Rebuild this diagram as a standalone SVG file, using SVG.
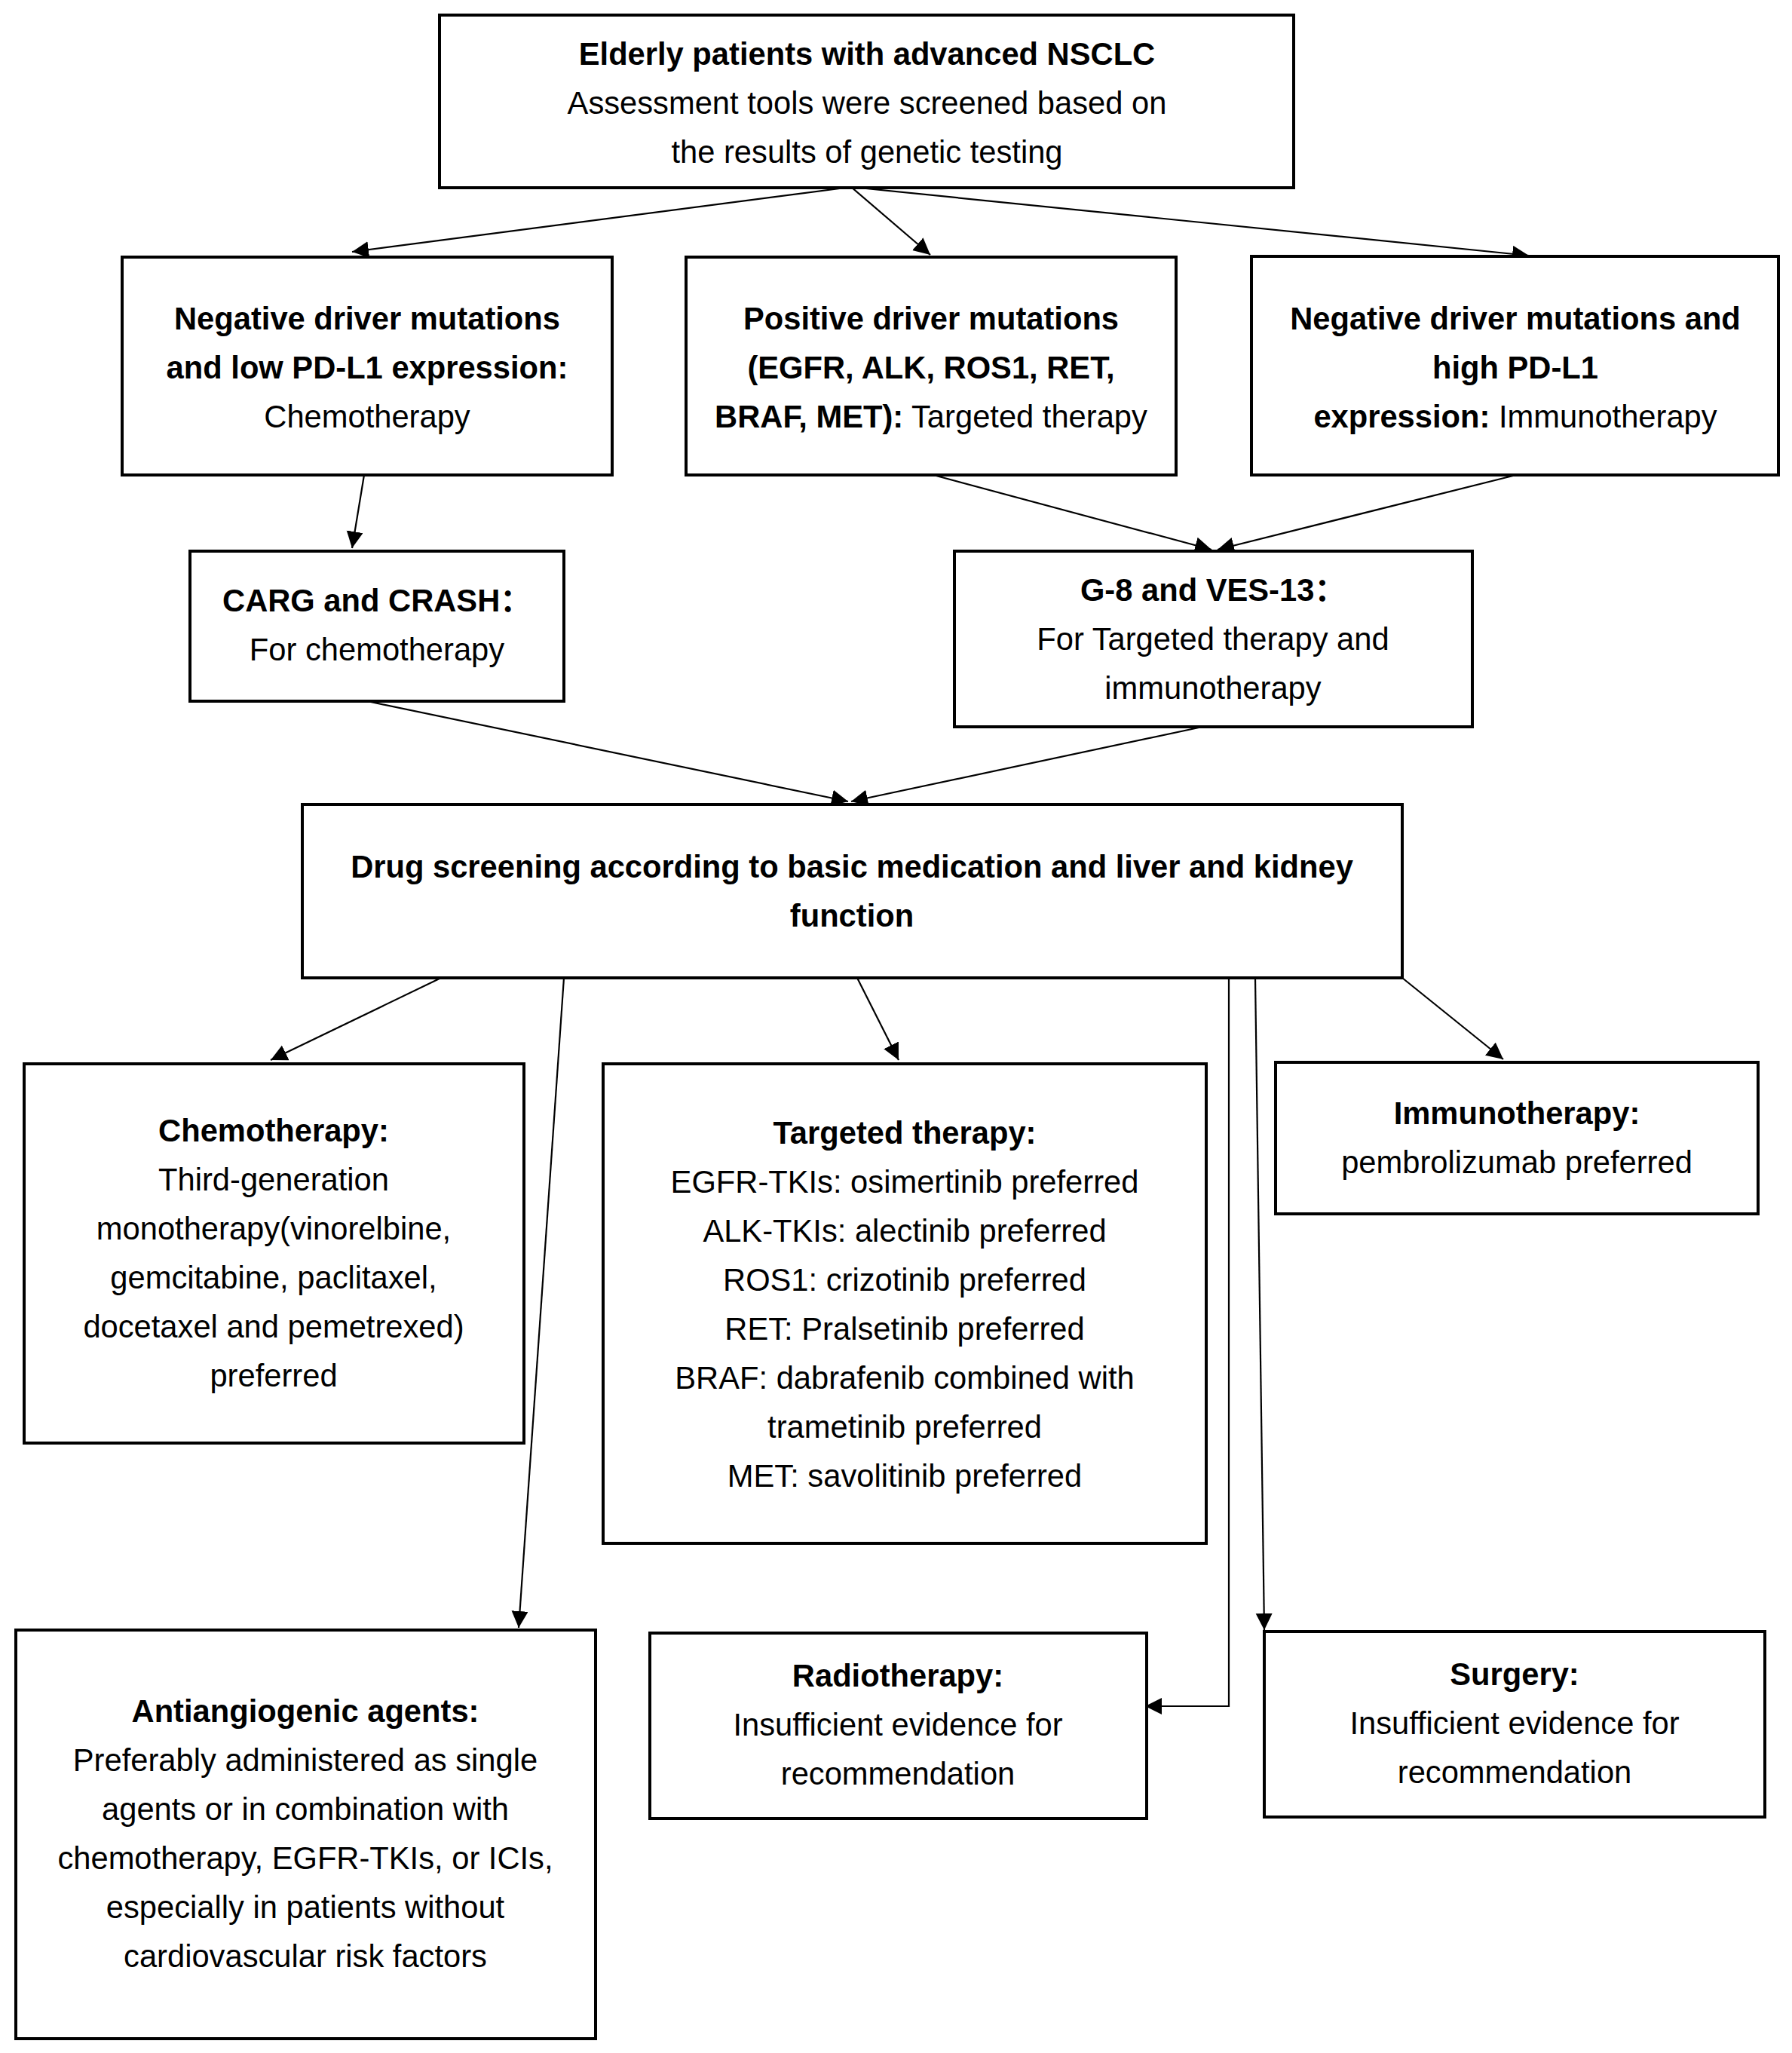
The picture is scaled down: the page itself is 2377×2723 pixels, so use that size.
<svg xmlns="http://www.w3.org/2000/svg" width="2377" height="2723" viewBox="0 0 2377 2723">
<style>
.box{fill:#fff;stroke:#000;stroke-width:4}
text{font-family:"Liberation Sans",Arial,"Noto Sans CJK SC",sans-serif;font-size:41.7px;fill:#000;text-anchor:middle}
.b{font-weight:bold}
.c{fill:none;stroke:#000;stroke-width:2.2}
</style>
<defs>
<marker id="ah" markerUnits="userSpaceOnUse" markerWidth="24" markerHeight="24" refX="22" refY="11" orient="auto" viewBox="0 0 24 24">
<path d="M0,0 L22,11 L0,22 z" fill="#000"/>
</marker>
</defs>
<rect width="2377" height="2723" fill="#fff"/>
<g id="connectors">
<line class="c" x1="1129" y1="248" x2="467" y2="334" marker-end="url(#ah)"/>
<line class="c" x1="1129" y1="248" x2="1234" y2="338" marker-end="url(#ah)"/>
<line class="c" x1="1129" y1="248" x2="2028" y2="339" marker-end="url(#ah)"/>
<line class="c" x1="483" y1="630" x2="467" y2="727" marker-end="url(#ah)"/>
<line class="c" x1="1238" y1="630" x2="1607" y2="729" marker-end="url(#ah)"/>
<line class="c" x1="2011" y1="630" x2="1615" y2="729" marker-end="url(#ah)"/>
<line class="c" x1="487" y1="930" x2="1125" y2="1063" marker-end="url(#ah)"/>
<line class="c" x1="1595" y1="964" x2="1129" y2="1063" marker-end="url(#ah)"/>
<line class="c" x1="585" y1="1297" x2="359" y2="1406" marker-end="url(#ah)"/>
<line class="c" x1="748" y1="1297" x2="688" y2="2159" marker-end="url(#ah)"/>
<line class="c" x1="1137" y1="1297" x2="1192" y2="1406" marker-end="url(#ah)"/>
<line class="c" x1="1860" y1="1297" x2="1994" y2="1405" marker-end="url(#ah)"/>
<polyline class="c" points="1630,1297 1630,2263 1519,2263" marker-end="url(#ah)"/>
<line class="c" x1="1665" y1="1297" x2="1677" y2="2162" marker-end="url(#ah)"/>
</g>
<g id="n1"><rect class="box" x="583" y="20" width="1133" height="229"/>
<text x="1150" y="86" class="b">Elderly patients with advanced NSCLC</text>
<text x="1150" y="151">Assessment tools were screened based on</text>
<text x="1150" y="216">the results of genetic testing</text></g>
<g id="n2"><rect class="box" x="162" y="341" width="650" height="289"/>
<text x="487" y="437" class="b">Negative driver mutations</text>
<text x="487" y="502" class="b">and low PD-L1 expression:</text>
<text x="487" y="567">Chemotherapy</text></g>
<g id="n3"><rect class="box" x="910" y="341" width="650" height="289"/>
<text x="1235" y="437" class="b">Positive driver mutations</text>
<text x="1235" y="502" class="b">(EGFR, ALK, ROS1, RET,</text>
<text x="1235" y="567"><tspan class="b">BRAF, MET):</tspan> Targeted therapy</text></g>
<g id="n4"><rect class="box" x="1660" y="340" width="699" height="290"/>
<text x="2010" y="437" class="b">Negative driver mutations and</text>
<text x="2010" y="502" class="b">high PD-L1</text>
<text x="2010" y="567"><tspan class="b">expression:</tspan> Immunotherapy</text></g>
<g id="n5"><rect class="box" x="252" y="731" width="496" height="199"/>
<text x="500" y="811" class="b">CARG and CRASH：</text>
<text x="500" y="876">For chemotherapy</text></g>
<g id="n6"><rect class="box" x="1266" y="731" width="687" height="233"/>
<text x="1609" y="797" class="b">G-8 and VES-13：</text>
<text x="1609" y="862">For Targeted therapy and</text>
<text x="1609" y="927">immunotherapy</text></g>
<g id="n7"><rect class="box" x="401" y="1067" width="1459" height="230"/>
<text x="1130" y="1164" class="b">Drug screening according to basic medication and liver and kidney</text>
<text x="1130" y="1229" class="b">function</text></g>
<g id="n8"><rect class="box" x="32" y="1411" width="663" height="503"/>
<text x="363" y="1514" class="b">Chemotherapy:</text>
<text x="363" y="1579">Third-generation</text>
<text x="363" y="1644">monotherapy(vinorelbine,</text>
<text x="363" y="1709">gemcitabine, paclitaxel,</text>
<text x="363" y="1774">docetaxel and pemetrexed)</text>
<text x="363" y="1839">preferred</text></g>
<g id="n9"><rect class="box" x="800" y="1411" width="800" height="636"/>
<text x="1200" y="1517" class="b">Targeted therapy:</text>
<text x="1200" y="1582">EGFR-TKIs: osimertinib preferred</text>
<text x="1200" y="1647">ALK-TKIs: alectinib preferred</text>
<text x="1200" y="1712">ROS1: crizotinib preferred</text>
<text x="1200" y="1777">RET: Pralsetinib preferred</text>
<text x="1200" y="1842">BRAF: dabrafenib combined with</text>
<text x="1200" y="1907">trametinib preferred</text>
<text x="1200" y="1972">MET: savolitinib preferred</text></g>
<g id="n10"><rect class="box" x="1692" y="1409" width="640" height="201"/>
<text x="2012" y="1491" class="b">Immunotherapy:</text>
<text x="2012" y="1556">pembrolizumab preferred</text></g>
<g id="n11"><rect class="box" x="21" y="2162" width="769" height="542"/>
<text x="405" y="2284" class="b">Antiangiogenic agents:</text>
<text x="405" y="2349">Preferably administered as single</text>
<text x="405" y="2414">agents or in combination with</text>
<text x="405" y="2479">chemotherapy, EGFR-TKIs, or ICIs,</text>
<text x="405" y="2544">especially in patients without</text>
<text x="405" y="2609">cardiovascular risk factors</text></g>
<g id="n12"><rect class="box" x="862" y="2166" width="659" height="246"/>
<text x="1191" y="2237" class="b">Radiotherapy:</text>
<text x="1191" y="2302">Insufficient evidence for</text>
<text x="1191" y="2367">recommendation</text></g>
<g id="n13"><rect class="box" x="1677" y="2164" width="664" height="246"/>
<text x="2009" y="2235" class="b">Surgery:</text>
<text x="2009" y="2300">Insufficient evidence for</text>
<text x="2009" y="2365">recommendation</text></g>
</svg>
